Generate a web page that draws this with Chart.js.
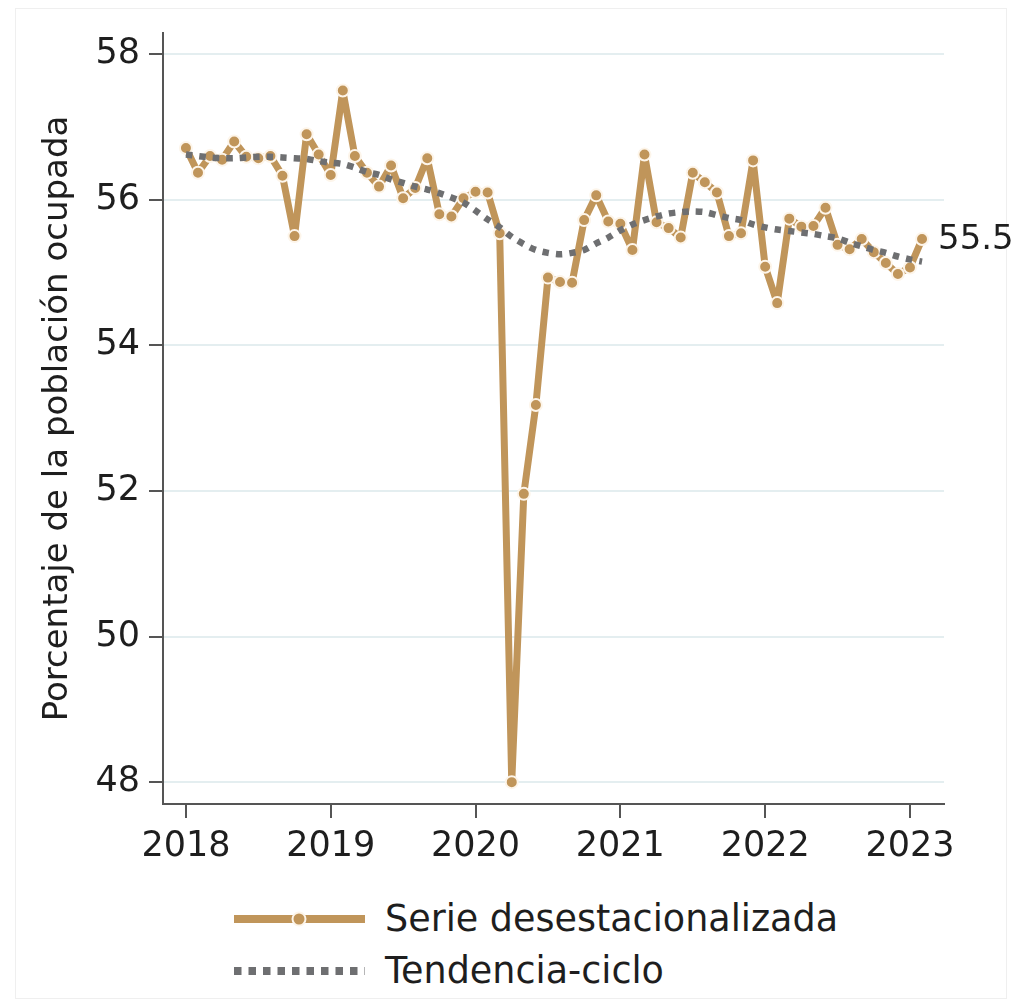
<!DOCTYPE html>
<html>
<head>
<meta charset="utf-8">
<script src="https://cdn.jsdelivr.net/npm/chart.js@4.4.1/dist/chart.umd.min.js"></script>
<style>
  html, body { margin: 0; padding: 0; background: #fff; }
  .page { position: relative; width: 1013px; height: 1003px; overflow: hidden; font-family: 'DejaVu Sans', sans-serif; color: #1e1e1e; }
  .frame { position: absolute; left: 15px; top: 8px; width: 992px; height: 991px; border: 1px solid #efefef; box-sizing: border-box; }
  canvas#chart { position: absolute; left: 0; top: 0; }
  .legend-row { position: absolute; left: 234px; height: 40px; display: flex; align-items: center; }
  .legend-row svg { width: 131px; height: 40px; margin-right: 20px; }
  .legend-row span { font-size: 36.5px; line-height: 40px; white-space: nowrap; }
</style>
</head>
<body>
<div class="page">
  <div class="frame"></div>
  <canvas id="chart" width="1013" height="880"></canvas>
  <div class="legend-row" style="top: 899px;">
    <svg viewBox="0 0 131 40"><line x1="0" y1="20" x2="131" y2="20" stroke="#c0955a" stroke-width="8"/><circle cx="65" cy="20" r="6.5" fill="#c0955a" stroke="#fdf5ea" stroke-width="2"/></svg>
    <span>Serie desestacionalizada</span>
  </div>
  <div class="legend-row" style="top: 951px;">
    <svg viewBox="0 0 131 40"><line x1="0" y1="20" x2="131" y2="20" stroke="#6e6f71" stroke-width="8" stroke-dasharray="7.5 7"/></svg>
    <span>Tendencia-ciclo</span>
  </div>
</div>
<script>
// monthly data, Jan 2018 .. Feb 2023
const startYear = 2018;
const series = [
  56.71, 56.37, 56.60, 56.55, 56.80, 56.59, 56.57, 56.60, 56.33, 55.50, 56.90, 56.62,
  56.34, 57.50, 56.60, 56.37, 56.18, 56.47, 56.02, 56.16, 56.57, 55.80, 55.77, 56.02,
  56.11, 56.10, 55.54, 48.00, 51.96, 53.18, 54.93, 54.87, 54.86, 55.72, 56.06, 55.70,
  55.67, 55.31, 56.62, 55.69, 55.61, 55.48, 56.37, 56.24, 56.10, 55.50, 55.54, 56.54,
  55.08, 54.58, 55.74, 55.63, 55.64, 55.89, 55.38, 55.32, 55.46, 55.28, 55.13, 54.98,
  55.07, 55.46
];
const trend = [
  56.62, 56.60, 56.58, 56.57, 56.57, 56.58, 56.59, 56.59, 56.58, 56.57, 56.56, 56.53,
  56.51, 56.49, 56.44, 56.38, 56.34, 56.28, 56.23, 56.18, 56.14, 56.09, 56.03, 55.96,
  55.85, 55.73, 55.62, 55.49, 55.39, 55.31, 55.27, 55.25, 55.27, 55.31, 55.40, 55.48,
  55.58, 55.66, 55.72, 55.77, 55.81, 55.83, 55.84, 55.83, 55.79, 55.75, 55.72, 55.66,
  55.62, 55.59, 55.57, 55.55, 55.53, 55.50, 55.47, 55.41, 55.36, 55.31, 55.27, 55.22,
  55.18, 55.15
];
const yearTicks = [2018, 2019, 2020, 2021, 2022, 2023];
const yTicks = [48, 50, 52, 54, 56, 58];
const lastLabel = '55.5';

const tan = '#c0955a';
const gray = '#6e6f71';
const axisColor = '#555555';
const tickFont = { family: 'DejaVu Sans', size: 35 };

const toPoints = (arr) => arr.map((v, i) => ({ x: i, y: v }));

// label next to the last point
const endLabel = {
  id: 'endLabel',
  afterDatasetsDraw(chart) {
    const meta = chart.getDatasetMeta(1);
    const pt = meta.data[meta.data.length - 1];
    const ctx = chart.ctx;
    ctx.save();
    ctx.font = '34px "DejaVu Sans"';
    ctx.fillStyle = '#1e1e1e';
    ctx.textAlign = 'left';
    ctx.textBaseline = 'middle';
    ctx.fillText(lastLabel, pt.x + 16, pt.y + 1);
    ctx.restore();
  }
};

new Chart(document.getElementById('chart'), {
  type: 'line',
  data: {
    datasets: [
      {
        label: 'Tendencia-ciclo',
        data: toPoints(trend),
        borderColor: gray,
        borderWidth: 6.5,
        borderDash: [6.5, 7],
        borderCapStyle: 'butt',
        pointRadius: 0,
        tension: 0.3,
        fill: false,
      },
      {
        label: 'Serie desestacionalizada',
        data: toPoints(series),
        borderColor: tan,
        borderWidth: 7,
        borderJoinStyle: 'round',
        pointRadius: 6,
        pointBackgroundColor: tan,
        pointBorderColor: '#fdf5ea',
        pointBorderWidth: 2,
        tension: 0,
        fill: false,
      },
    ],
  },
  options: {
    responsive: false,
    animation: false,
    layout: { padding: { top: 33, right: 69, left: 0, bottom: 0 } },
    plugins: {
      legend: { display: false },
      tooltip: { enabled: false },
    },
    scales: {
      x: {
        type: 'linear',
        min: -1.9,
        max: 62.82,
        afterBuildTicks: (s) => { s.ticks = yearTicks.map((y) => ({ value: (y - startYear) * 12 })); },
        afterFit: (s) => { s.height = 76; },
        border: { color: axisColor, width: 2 },
        grid: { color: 'rgba(0,0,0,0)', tickColor: axisColor, tickLength: 14, lineWidth: 2 },
        ticks: {
          color: '#1e1e1e',
          font: tickFont,
          padding: 8,
          maxRotation: 0,
          autoSkip: false,
          callback: (v) => String(startYear + Math.round(v / 12)),
        },
      },
      y: {
        min: 47.7,
        max: 58.29,
        afterBuildTicks: (s) => { s.ticks = yTicks.map((v) => ({ value: v })); },
        afterFit: (s) => { s.width = 163; },
        border: { color: axisColor, width: 2 },
        grid: { color: '#e4eef0', tickColor: axisColor, tickLength: 14, lineWidth: 2 },
        ticks: {
          color: '#1e1e1e',
          font: tickFont,
          padding: 9,
          autoSkip: false,
          callback: (v) => String(v),
        },
        title: {
          display: true,
          text: 'Porcentaje de la población ocupada',
          color: '#1e1e1e',
          font: { family: 'DejaVu Sans', size: 34 },
          padding: { top: 38, bottom: 0 },
        },
      },
    },
  },
  plugins: [endLabel],
});
</script>
</body>
</html>
